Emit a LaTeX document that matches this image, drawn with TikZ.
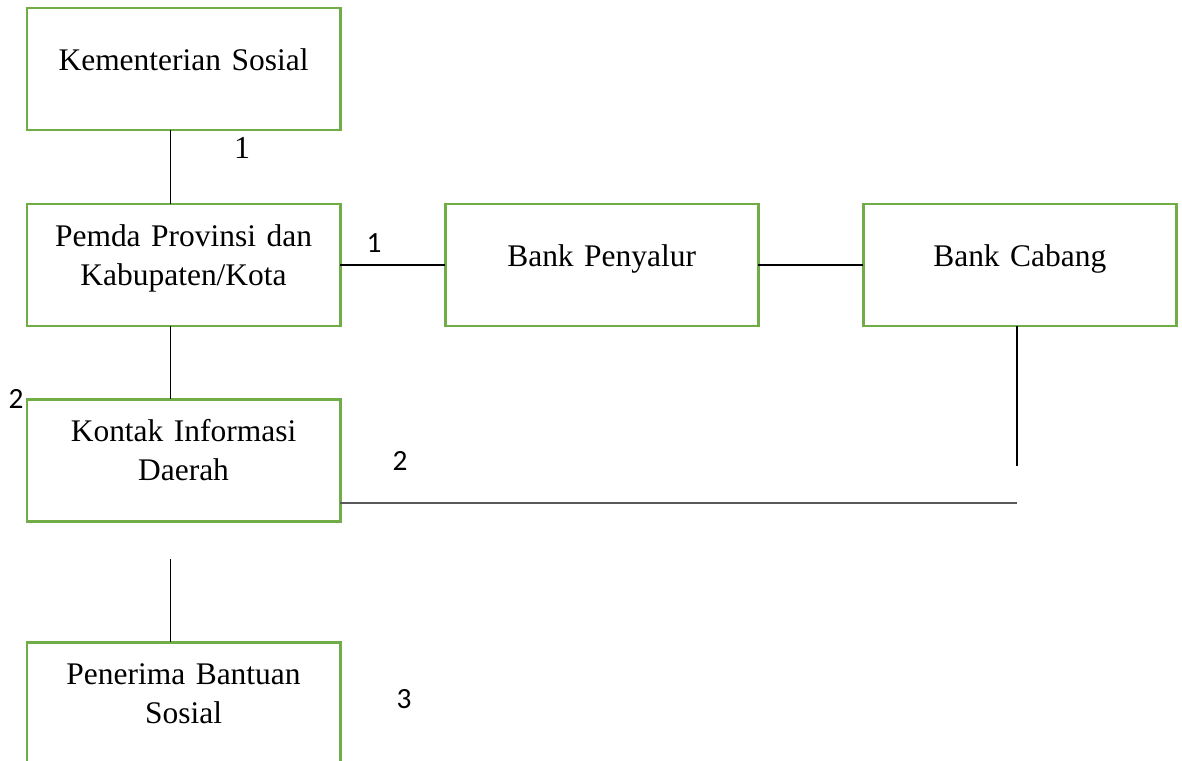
\documentclass[tikz,border=0pt]{standalone}
\usepackage{fontspec}
\setmainfont{Liberation Serif}
\newfontfamily\numfont{Carlito}
\usepackage{xcolor}
\usepackage{tikz}
\usetikzlibrary{positioning}
\definecolor{boxgreen}{HTML}{70AD47}
\definecolor{linegray}{HTML}{595959}
\tikzset{
    unit/.style={rectangle, draw=boxgreen, line width=1.1pt, inner sep=0pt, outer sep=0pt, text width=117.4pt, align=center, font=\fontsize{11.8}{14.8}\selectfont},
    oneline/.style={unit, text height=23.25pt, text depth=22.5pt},
    twoline/.style={unit, text height=15.75pt, text depth=30pt},
    link/.style={draw=black, line width=0.5pt},
    feed/.style={draw=linegray, line width=0.75pt},
    num/.style={font=\numfont\fontsize{11}{13}\selectfont, inner sep=0pt},
    numserif/.style={font=\fontsize{12}{14}\selectfont, inner sep=0pt}
}

\begin{document}
\begin{tikzpicture}[x=0.375pt, y=-0.375pt]
        \useasboundingbox (0,0) rectangle (1182,760);

        % Units
        \node[oneline, anchor=north west] (kemensos) at (27,8) {Kementerian Sosial};
        \node[twoline, below=27.75pt of kemensos] (pemda) {Pemda Provinsi dan\\Kabupaten/Kota};
        \node[oneline, right=39.4pt of pemda] (penyalur) {Bank Penyalur};
        \node[oneline, right=39.4pt of penyalur] (cabang) {Bank Cabang};
        \node[twoline, below=27.4pt of pemda] (kontak) {Kontak Informasi\\Daerah};
        \node[twoline, below=45.4pt of kontak] (penerima) {Penerima Bantuan\\Sosial};

        % Loose ends
        \coordinate (kgap) at ([xshift=-5pt, yshift=31.1pt]penerima.north);
        \coordinate (cabend) at ([xshift=-1pt, yshift=-52.5pt]cabang.south);
        \coordinate (kline) at ([yshift=6.75pt]kontak.south east);

        % Connectors
        \draw[link] ([xshift=-5pt]kemensos.south) -- ([xshift=-5pt]pemda.north);
        \draw[link] ([xshift=-5pt]pemda.south) -- ([xshift=-5pt]kontak.north);
        \draw[link] (kgap) -- ([xshift=-5pt]penerima.north);
        \draw[link] (pemda.east) -- (penyalur.west);
        \draw[link] (penyalur.east) -- (cabang.west);
        \draw[link] ([xshift=-1pt]cabang.south) -- (cabend);
        \draw[feed] (kline) -- (kline -| cabend);

        % Numbers
        \node[numserif] (n1a) at (242,148) {1};
        \node[num] (n1b) at (374,243) {1};
        \node[num] (n2a) at (16,399) {2};
        \node[num] (n2b) at (400,461) {2};
        \node[num] (n3) at (404,699) {3};
    \end{tikzpicture}
\end{document}
